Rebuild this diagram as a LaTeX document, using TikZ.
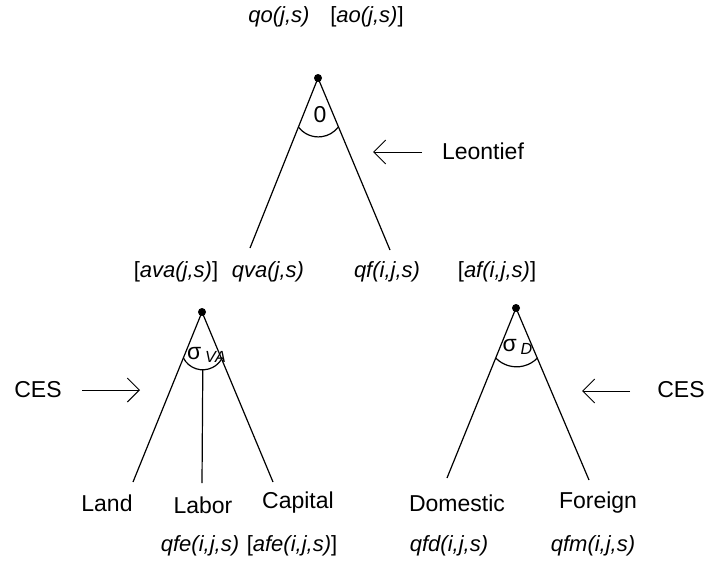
\documentclass[tikz,border=0pt]{standalone}
\usepackage{fontspec}
\setmainfont{Liberation Sans}
\usetikzlibrary{arrows.meta,calc}

\begin{document}
\begin{tikzpicture}[x=0.5pt,y=-0.5pt,font=\fontsize{11.5}{13}\selectfont,
  branch/.style={line width=0.6pt},
  pointer/.style={-{Straight Barb[length=6pt,width=12pt]},line width=0.5pt},
  var/.style={font=\fontsize{11}{13}\selectfont\itshape,inner sep=1pt},
  dot/.style={circle,fill,inner sep=0pt,minimum size=4pt}]
\useasboundingbox (0,0) rectangle (707,562);
% top nest: Leontief
\node[dot] (top) at (318,78) {};
\coordinate (va) at (250,248);
\coordinate (fi) at (390,250);
\draw[branch] (top.center)--(va);
\draw[branch] (top.center)--(fi);
\draw[branch] ($(top.center)!0.288!(va)$) arc[start angle=217,end angle=323,radius=12.5pt];
\node (sig0) at (320,115) {0};
\node[var] (qo) at (279,17) {qo(j,s)};
\node[var] (ao) at (367,17) {{\upshape[}ao(j,s){\upshape]}};
\node (leon) at (483,151) {Leontief};
\coordinate (leonTail) at (422,152);
\coordinate (leonHead) at (373,152);
\draw[pointer] (leonTail)--(leonHead);
\node[var] (ava) at (176,272) {{\upshape[}ava(j,s){\upshape]}};
\node[var] (qva) at (268,272) {qva(j,s)};
\node[var] (qf) at (387,272) {qf(i,j,s)};
\node[var] (af) at (497,272) {{\upshape[}af(i,j,s){\upshape]}};
% value added nest: CES
\node[dot] (vaTop) at (202,312) {};
\coordinate (land) at (133,482);
\coordinate (capital) at (273,482);
\coordinate (labor) at (202,483);
\draw[branch] (vaTop.center)--(land);
\draw[branch] (vaTop.center)--(capital);
\draw[branch] ($(vaTop.center)!0.27!(land)$) arc[start angle=207,end angle=333,radius=10.9pt]
  coordinate[pos=0.5] (vaArc);
\draw[branch] (vaArc)--(labor);
\node (sigVA) at (207,355) {σ\,\textsubscript{\itshape VA}};
\node (cesL) at (38,390) {CES};
\coordinate (cesLTail) at (82,390);
\coordinate (cesLHead) at (140,390);
\draw[pointer] (cesLTail)--(cesLHead);
\node (landTxt) at (107,503) {Land};
\node (laborTxt) at (203,505) {Labor};
\node (capTxt) at (298,503) {Capital};
\node[var] (qfe) at (200,546) {qfe(i,j,s)};
\node[var] (afe) at (292,546) {{\upshape[}afe(i,j,s){\upshape]}};
% domestic/foreign nest: CES
\node[dot] (dTop) at (516,308) {};
\coordinate (dom) at (447,478);
\coordinate (imp) at (589,480);
\draw[branch] (dTop.center)--(dom);
\draw[branch] (dTop.center)--(imp);
\draw[branch] ($(dTop.center)!0.294!(dom)$) arc[start angle=224,end angle=316,radius=14.5pt];
\node (sigD) at (518,347) {σ\,\textsubscript{\itshape D}};
\node (cesR) at (681,390) {CES};
\coordinate (cesRTail) at (630,391);
\coordinate (cesRHead) at (582,391);
\draw[pointer] (cesRTail)--(cesRHead);
\node (domTxt) at (457,503) {Domestic};
\node (forTxt) at (598,503) {Foreign};
\node[var] (qfd) at (449,546) {qfd(i,j,s)};
\node[var] (qfm) at (593,546) {qfm(i,j,s)};
\end{tikzpicture}
\end{document}
